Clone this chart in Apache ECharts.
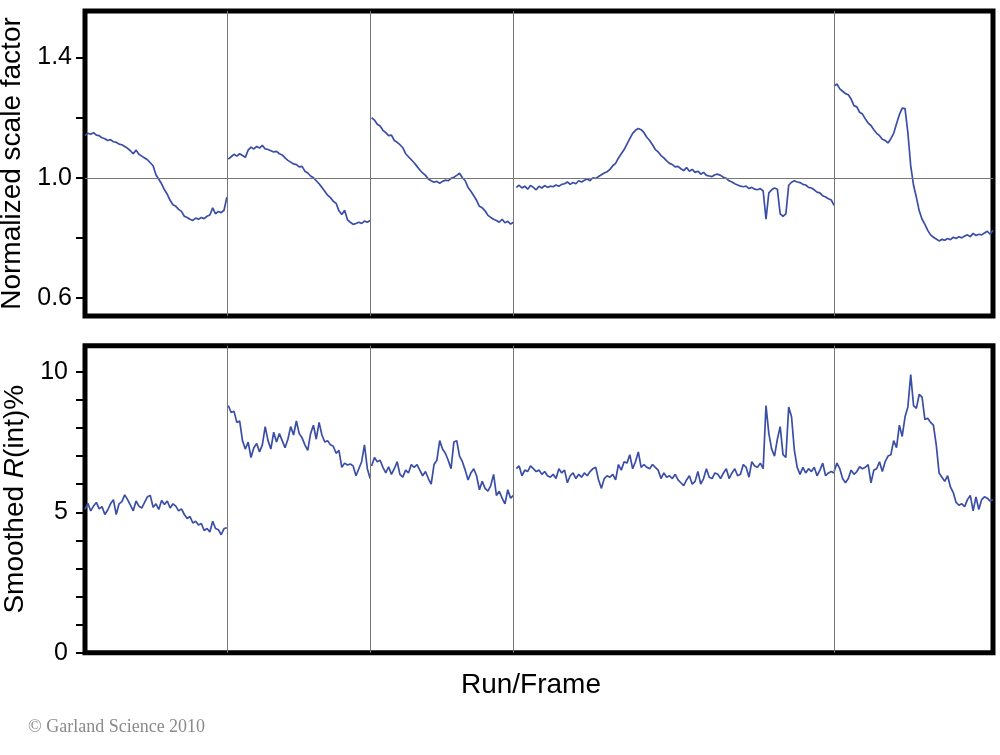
<!DOCTYPE html>
<html>
<head>
<meta charset="utf-8">
<script src="https://cdn.jsdelivr.net/npm/echarts@6/dist/echarts.min.js"></script>
<style>html,body{margin:0;padding:0;background:#fff}#c{width:1000px;height:755px}</style>
</head>
<body>
<div id="c"></div>
<script>
// ---- data ----
const runStart = [0, 101, 202, 304, 528];          // first frame of each run
const frameStep = 2;                               // frames between samples
const runBoundaries = [100.3, 201.4, 302.2, 528.1]; // run separators (frame)
const frameMax = 640;

const scaleTickValues = [0.6, 0.8, 1.0, 1.2, 1.4];
const scaleLabelValues = [0.6, 1.0, 1.4];
const rTickValues = [0, 1, 2, 3, 4, 5, 6, 7, 8, 9, 10];
const rLabelValues = [0, 5, 10];

const scaleRun1 = [1.140,1.148,1.145,1.150,1.142,1.140,1.133,1.130,1.124,1.127,1.120,1.118,1.112,1.110,1.104,1.098,1.090,1.080,1.092,1.078,1.072,1.066,1.060,1.050,1.040,1.010,0.995,0.980,0.960,0.945,0.925,0.910,0.905,0.895,0.888,0.872,0.868,0.862,0.858,0.866,0.862,0.868,0.864,0.872,0.876,0.900,0.880,0.888,0.884,0.892,0.935];
const scaleRun2 = [1.062,1.070,1.078,1.072,1.080,1.074,1.068,1.092,1.102,1.096,1.104,1.099,1.108,1.096,1.094,1.090,1.086,1.088,1.080,1.076,1.066,1.058,1.052,1.046,1.044,1.036,1.038,1.022,1.016,1.006,1.000,0.990,0.980,0.968,0.955,0.942,0.934,0.922,0.915,0.890,0.878,0.892,0.860,0.852,0.845,0.848,0.852,0.848,0.856,0.852,0.858];
const scaleRun3 = [1.200,1.192,1.178,1.172,1.158,1.150,1.140,1.142,1.124,1.118,1.110,1.100,1.080,1.070,1.060,1.050,1.038,1.026,1.016,1.008,0.996,0.990,0.985,0.988,0.982,0.988,0.992,0.990,0.998,1.002,1.008,1.015,1.000,0.990,0.968,0.955,0.940,0.925,0.905,0.900,0.890,0.875,0.868,0.862,0.858,0.852,0.862,0.850,0.855,0.846,0.852];
const scaleRun4 = [0.968,0.975,0.966,0.972,0.962,0.974,0.968,0.960,0.972,0.966,
  0.974,0.968,0.972,0.970,0.976,0.972,0.978,0.980,0.986,0.978,
  0.984,0.980,0.990,0.986,0.992,0.996,0.990,1.000,0.998,1.004,
  1.010,1.016,1.020,1.028,1.040,1.048,1.066,1.080,1.094,1.112,
  1.130,1.148,1.158,1.164,1.160,1.150,1.135,1.124,1.110,1.094,
  1.086,1.074,1.066,1.056,1.048,1.044,1.036,1.038,1.030,1.024,
  1.034,1.022,1.028,1.018,1.022,1.012,1.018,1.008,1.006,1.004,
  1.010,1.012,1.008,1.002,0.998,0.990,0.986,0.980,0.976,0.972,
  0.970,0.972,0.964,0.968,0.962,0.960,0.964,0.956,0.862,0.950,
  0.960,0.966,0.962,0.880,0.872,0.880,0.975,0.985,0.990,0.986,
  0.984,0.978,0.976,0.968,0.966,0.960,0.952,0.950,0.940,0.936,
  0.930,0.926,0.908];
const scaleRun5 = [1.305,1.312,1.296,1.288,1.280,1.276,1.262,1.240,1.236,1.218,
  1.212,1.196,1.182,1.174,1.160,1.148,1.140,1.128,1.124,1.116,
  1.130,1.148,1.180,1.210,1.232,1.230,1.150,1.040,0.975,0.935,
  0.890,0.862,0.845,0.825,0.810,0.802,0.796,0.790,0.795,0.792,
  0.798,0.794,0.802,0.798,0.804,0.800,0.806,0.810,0.804,0.815,
  0.808,0.812,0.810,0.816,0.822,0.812,0.825];

const rRun1 = [5.10,5.32,5.05,5.22,5.35,5.12,5.20,4.92,5.08,5.30,5.45,4.92,5.30,5.38,5.62,5.45,5.25,5.05,5.40,5.22,5.15,5.35,5.55,5.60,5.18,5.30,5.10,5.42,5.28,5.40,5.15,5.30,5.22,5.05,5.12,4.92,4.78,4.85,4.62,4.68,4.55,4.60,4.35,4.42,4.30,4.68,4.42,4.38,4.20,4.42,4.45];
const rRun2 = [8.80,8.55,8.60,8.20,8.25,7.55,7.25,7.50,6.95,7.30,7.45,7.15,7.40,8.05,7.55,7.25,7.85,7.50,7.80,7.55,7.30,7.60,8.05,7.75,8.25,7.80,7.65,7.40,7.20,7.80,8.10,7.60,8.20,7.75,7.50,7.55,7.40,7.35,7.10,7.20,6.60,6.75,6.68,6.72,6.65,6.30,6.55,6.80,7.40,6.55,6.20];
const rRun3 = [6.65,6.95,6.80,6.85,6.60,6.40,6.62,6.35,6.55,6.80,6.35,6.25,6.50,6.40,6.70,6.60,6.70,6.50,6.30,6.45,6.20,6.00,6.70,6.85,7.55,7.25,7.10,6.85,6.55,7.50,7.55,7.00,6.80,6.50,6.15,6.40,6.55,6.30,5.80,6.10,5.85,5.75,5.95,6.35,5.60,5.75,5.50,5.30,5.80,5.50,5.60];
const rRun4 = [6.55,6.65,6.30,6.50,6.45,6.65,6.55,6.45,6.50,6.35,
  6.45,6.30,6.25,6.35,6.20,6.55,6.40,6.50,6.05,6.30,
  6.40,6.20,6.35,6.25,6.40,6.30,6.45,6.55,6.60,6.15,
  5.85,6.20,6.30,6.25,6.35,6.15,6.70,6.50,6.80,6.75,
  7.05,6.55,6.80,7.15,6.60,6.70,6.60,6.55,6.70,6.60,
  6.50,6.20,6.40,6.25,6.30,6.20,6.35,6.15,6.05,5.95,
  6.15,6.30,6.00,6.10,6.45,6.00,6.20,6.55,6.25,6.20,
  6.40,6.35,6.20,6.40,6.55,6.20,6.40,6.55,6.30,6.35,
  6.70,6.60,6.25,6.80,6.65,6.60,6.75,6.55,8.80,7.80,
  7.25,7.00,7.60,8.05,7.05,6.95,8.75,8.40,7.20,6.60,
  6.35,6.60,6.40,6.55,6.45,6.60,6.30,6.50,6.75,6.30,
  6.40,6.45,6.40];
const rRun5 = [6.45,6.75,6.55,6.20,6.05,6.20,6.50,6.35,6.45,6.62,
  6.55,6.60,6.70,6.05,6.50,6.55,6.80,6.45,6.80,7.00,
  7.05,7.55,7.30,8.10,7.70,8.40,8.75,9.90,8.80,8.70,
  9.20,9.10,8.30,8.35,8.20,8.10,7.40,6.40,6.25,6.10,
  6.30,5.90,5.70,5.35,5.25,5.30,5.20,5.45,5.60,5.05,
  5.55,5.10,5.45,5.55,5.50,5.40,5.45];

const scaleRuns = [scaleRun1, scaleRun2, scaleRun3, scaleRun4, scaleRun5];
const rRuns = [rRun1, rRun2, rRun3, rRun4, rRun5];

// ---- chart ----
const FONT = '"Liberation Sans", Arial, sans-serif';
const LINE_COLOR = '#3a4ea6';
const toPairs = (arr, r) => arr.map((v, i) => [runStart[r] + i * frameStep, v]);

function makeSeries(runs, axisIdx, extraLines) {
  return runs.map((arr, r) => {
    const s = {
      type: 'line', xAxisIndex: axisIdx, yAxisIndex: axisIdx,
      data: toPairs(arr, r), showSymbol: false, symbol: 'none',
      lineStyle: { color: LINE_COLOR, width: 1.7 }, animation: false, z: 3
    };
    if (r === 0) {
      s.markLine = {
        silent: true, symbol: 'none', animation: false,
        label: { show: false },
        lineStyle: { color: '#777', width: 1, type: 'solid' },
        data: runBoundaries.map(x => ({ xAxis: x })).concat(extraLines)
      };
    }
    return s;
  });
}

const hiddenX = (idx, extra) => Object.assign({
  type: 'value', gridIndex: idx, min: 0, max: frameMax,
  axisLine: { show: false }, axisTick: { show: false },
  axisLabel: { show: false }, splitLine: { show: false }
}, extra || {});

const chart = echarts.init(document.getElementById('c'), null, { renderer: 'canvas' });
chart.setOption({
  animation: false,
  backgroundColor: '#fff',
  grid: [
    { left: 85, right: 7, top: 11, height: 305, show: true, borderColor: '#000', borderWidth: 5, backgroundColor: 'transparent', containLabel: false, outerBoundsMode: 'none' },
    { left: 85, right: 7, top: 345.7, height: 307, show: true, borderColor: '#000', borderWidth: 5, backgroundColor: 'transparent', containLabel: false, outerBoundsMode: 'none' }
  ],
  xAxis: [
    hiddenX(0),
    hiddenX(1, {
      name: 'Run/Frame', nameLocation: 'middle', nameGap: 19,
      nameTextStyle: { fontFamily: FONT, fontSize: 28, color: '#000', padding: [0, 16, 0, 0] }
    })
  ],
  yAxis: [
    {
      type: 'value', gridIndex: 0, min: 0.54, max: 1.555,
      axisLine: { show: false },
      axisTick: { show: true, inside: false, length: 9, lineStyle: { color: '#000', width: 2 }, customValues: scaleTickValues },
      axisLabel: { customValues: scaleLabelValues, formatter: v => Number(v).toFixed(1), fontFamily: FONT, fontSize: 25, color: '#000', margin: 13 },
      splitLine: { show: false },
      name: 'Normalized scale factor', nameLocation: 'middle', nameGap: 55,
      nameTextStyle: { fontFamily: FONT, fontSize: 28, color: '#000' }
    },
    {
      type: 'value', gridIndex: 1, min: 0, max: 10.93,
      axisLine: { show: false },
      axisTick: { show: true, inside: false, length: 9, lineStyle: { color: '#000', width: 2 }, customValues: rTickValues },
      axisLabel: { customValues: rLabelValues, fontFamily: FONT, fontSize: 25, color: '#000', margin: 17 },
      splitLine: { show: false },
      name: 'Smoothed {i|R}(int)%', nameLocation: 'middle', nameGap: 55,
      nameTextStyle: {
        fontFamily: FONT, fontSize: 28, color: '#000',
        rich: { i: { fontFamily: FONT, fontSize: 28, fontStyle: 'italic', color: '#000' } }
      }
    }
  ],
  graphic: [
    { type: 'text', left: 28, top: 718, silent: true,
      style: { text: '\u00A9 Garland Science 2010', font: '18px "Liberation Serif", "Times New Roman", serif', fill: '#8a8a8a' } }
  ],
  series: makeSeries(scaleRuns, 0, [{ yAxis: 1.0 }]).concat(makeSeries(rRuns, 1, []))
});
</script>
</body>
</html>
